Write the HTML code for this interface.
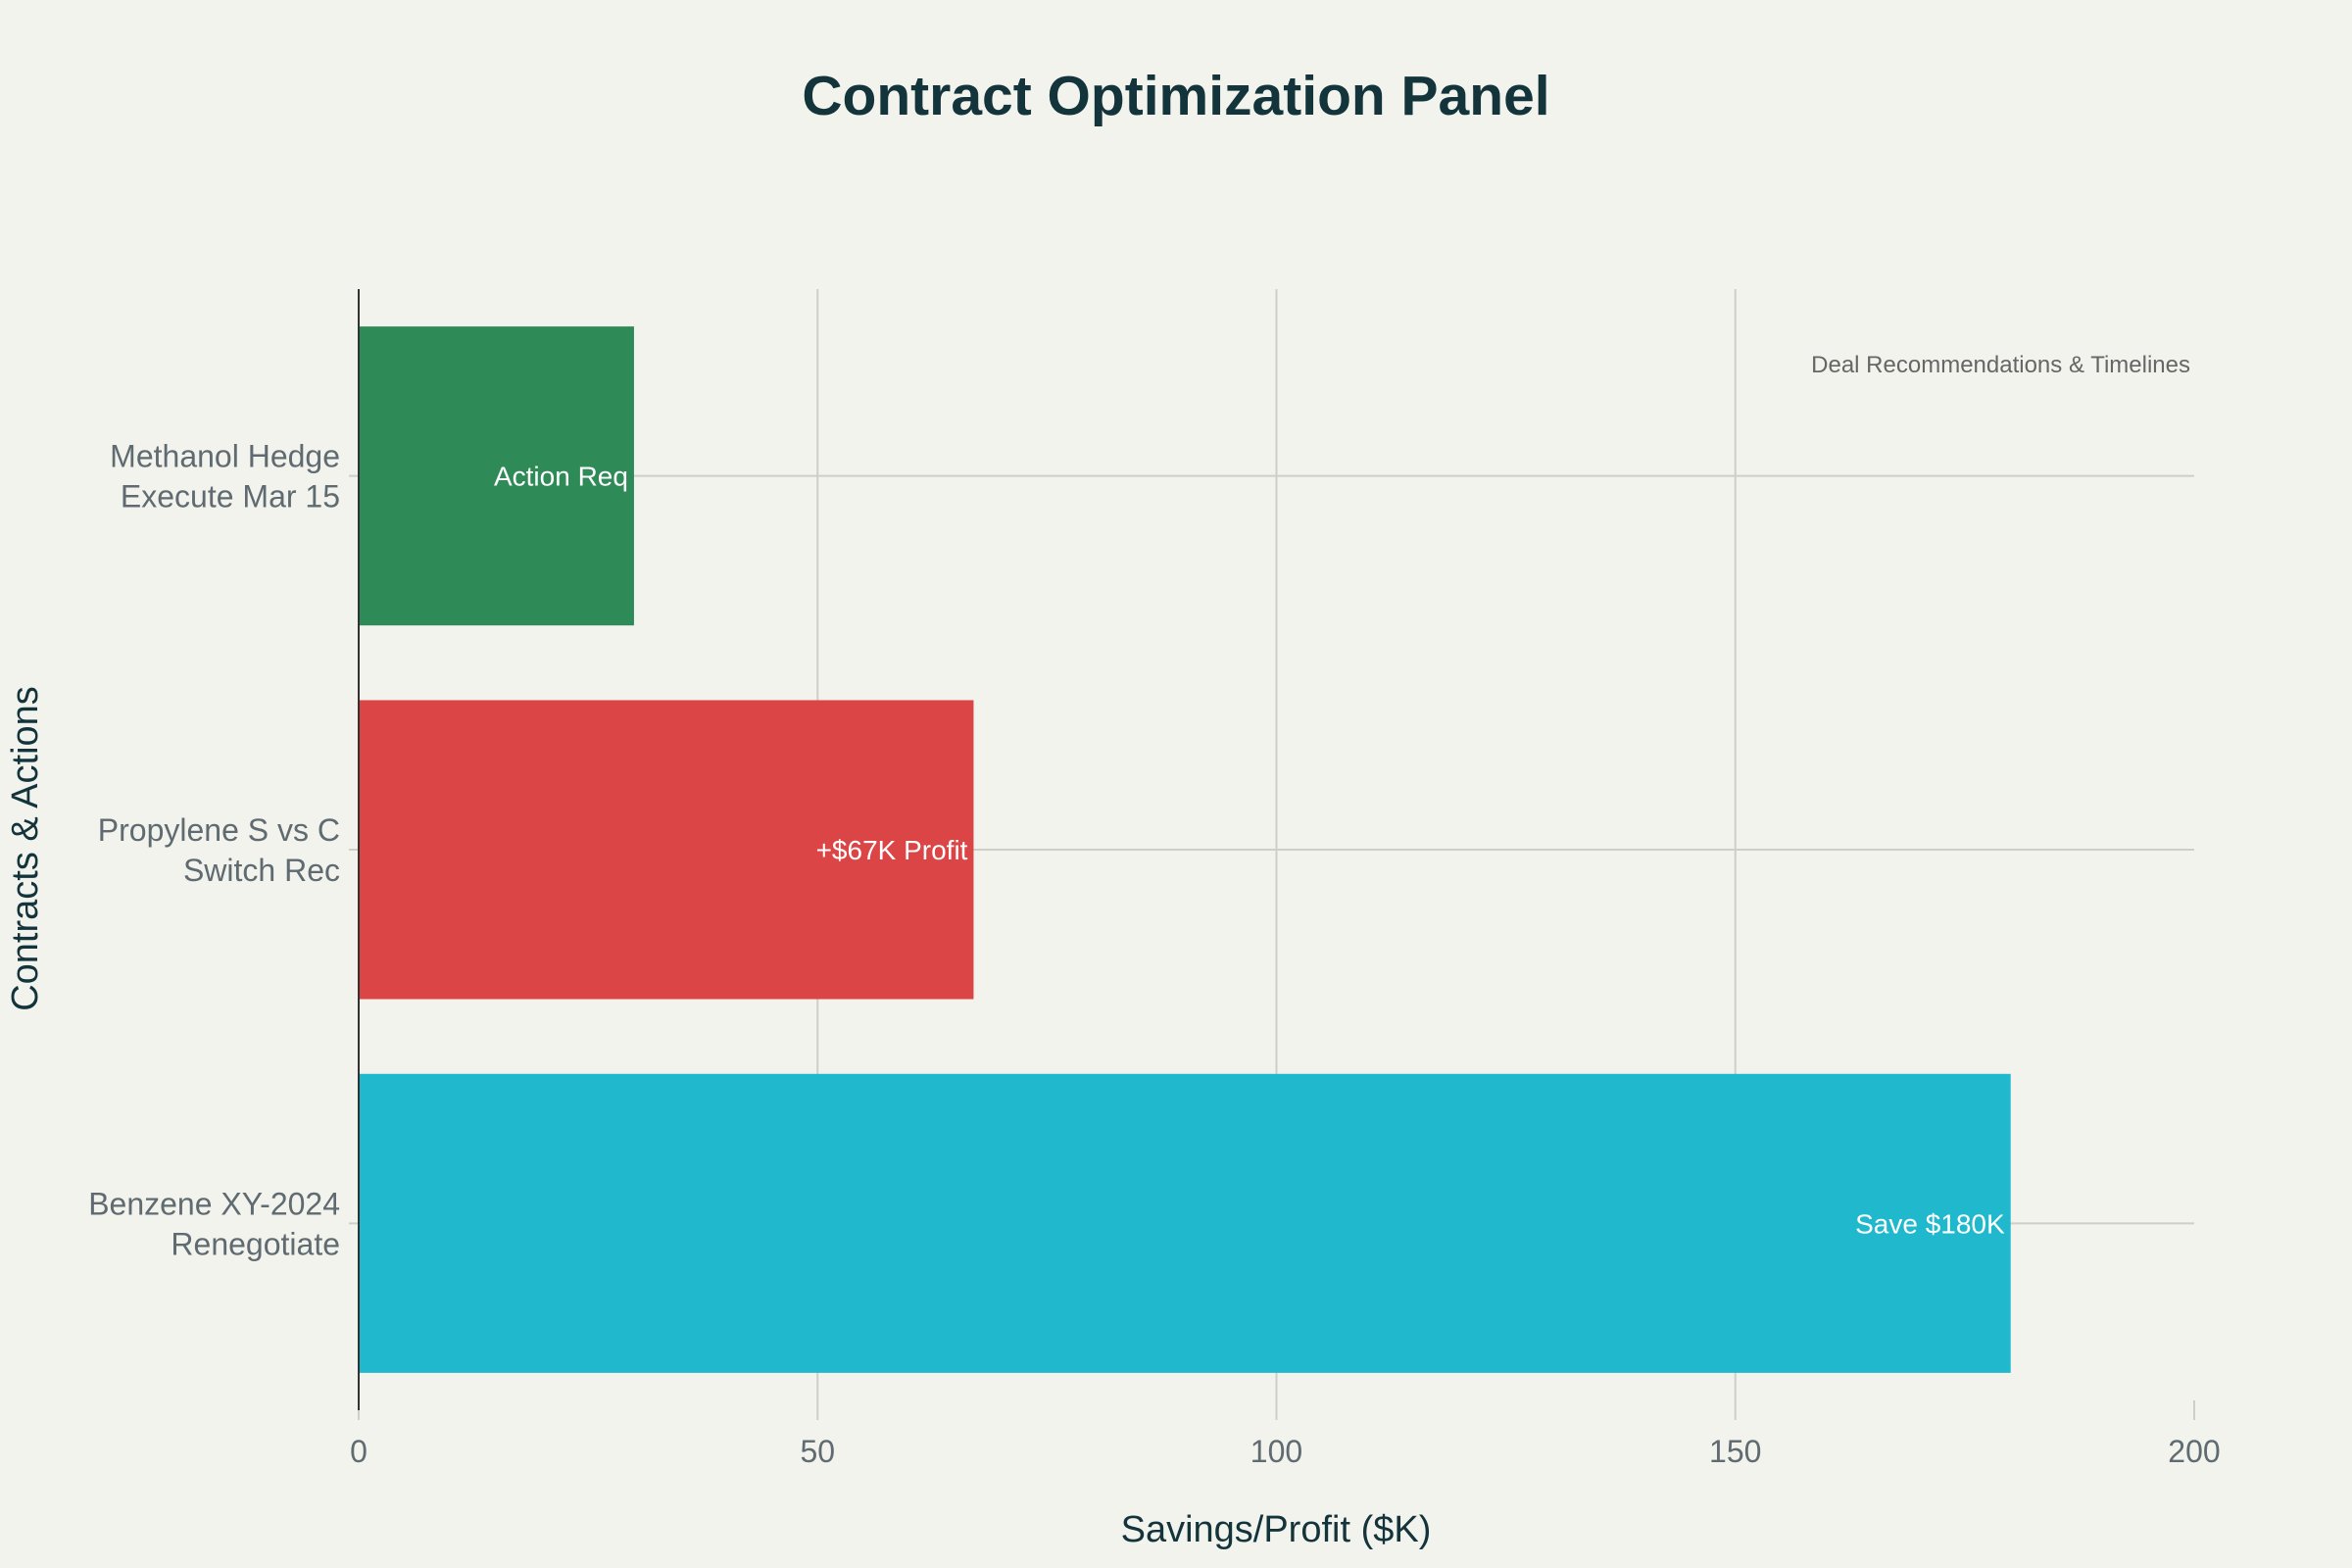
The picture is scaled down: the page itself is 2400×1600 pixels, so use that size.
<!DOCTYPE html>
<html><head><meta charset="utf-8"><style>
html,body{margin:0;padding:0;background:#f3f3ee;}
svg{display:block;font-family:"Liberation Sans",sans-serif;}
</style></head><body>
<svg id="chart" width="2400" height="1600" viewBox="0 0 2400 1600">
<rect width="2400" height="1600" fill="#f3f3ee"/>
<text x="1200" y="117" text-anchor="middle" font-size="57" font-weight="bold" fill="#13343b">Contract Optimization Panel</text>
<g id="grid"></g>
<g id="bars"></g>
<g id="labels"></g>
<text x="2235" y="380" text-anchor="end" font-size="24" fill="#666">Deal Recommendations &amp; Timelines</text>
<text x="1302" y="1573" text-anchor="middle" font-size="38" fill="#13343b">Savings/Profit ($K)</text>
<text transform="translate(38,866) rotate(-90)" text-anchor="middle" font-size="38" fill="#13343b">Contracts &amp; Actions</text>
</svg>
<script>
const categories = [["Methanol Hedge","Execute Mar 15"],["Propylene S vs C","Switch Rec"],["Benzene XY-2024","Renegotiate"]];
const values = [30, 67, 180];
const barLabels = ["Action Req","+$67K Profit","Save $180K"];
const colors = ["#2e8b57","#db4545","#1fb8cd"];
const xTicks = [0,50,100,150,200];

const NS="http://www.w3.org/2000/svg";
const x0=366,x1=2239,yTop=295,yBot=1439,xMax=200;
const xs=v=>x0+(v/xMax)*(x1-x0);
const band=(yBot-yTop)/categories.length;
const yc=i=>yTop+band*(i+0.5);
function mk(tag,attrs,parent){const e=document.createElementNS(NS,tag);for(const k in attrs)e.setAttribute(k,attrs[k]);parent.appendChild(e);return e;}
const grid=document.getElementById('grid'),bars=document.getElementById('bars'),labels=document.getElementById('labels');
xTicks.forEach(t=>{
  const full = t>0 && t<xMax;
  const l=mk('line',{x1:xs(t),x2:xs(t),y1:full?yTop:yBot-10,y2:yBot+10,stroke:'#cfcfc8','stroke-width':2},grid);
  
  
  const tx=mk('text',{x:xs(t),y:1492,'text-anchor':'middle','font-size':32,fill:'#5f6b70'},labels);
  tx.textContent=t;
  
  
});
categories.forEach((c,i)=>{
  const y=yc(i);
  const g=mk('line',{x1:x0-10,x2:x1,y1:y,y2:y,stroke:'#cfcfc8','stroke-width':2},grid);
  
  
  const h=band*0.8;
  const r=mk('rect',{x:x0,y:y-h/2,width:xs(values[i])-x0,height:h,fill:colors[i]},bars);
  
  
  const bl=mk('text',{x:xs(values[i])-6,y:y+10,'text-anchor':'end','font-size':28,fill:'#fff'},labels);
  bl.textContent=barLabels[i];
  
  
  const cl=mk('text',{x:347,'text-anchor':'end','font-size':32,fill:'#5f6b70'},labels);
  
  
  c.forEach((line,j)=>{const ts=mk('tspan',{x:347,y:y-9+j*41},cl);ts.textContent=line;});
});
const ax=mk('line',{x1:x0,x2:x0,y1:yTop,y2:yBot,stroke:'#333','stroke-width':2},bars);


</script>
</body></html>
